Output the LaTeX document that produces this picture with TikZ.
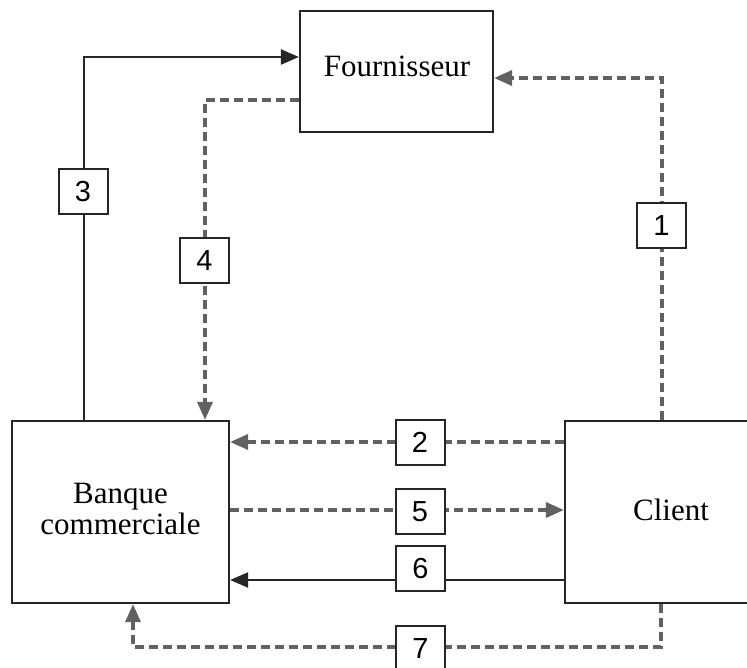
\documentclass[tikz,border=0pt]{standalone}
\usepackage{fontspec}
\setmainfont{Liberation Serif}
\newfontfamily\numfont{Liberation Sans}
\usetikzlibrary{arrows.meta,calc}
\begin{document}
\begin{tikzpicture}[x=1pt,y=-1pt,
  entity/.style={draw=black!85,line width=2.2pt,fill=white,inner sep=0pt},
  entitytext/.style={inner sep=0pt,align=center,font=\fontsize{31}{33}\selectfont},
  stepnum/.style={draw=black!85,line width=2pt,fill=white,minimum width=49pt,
    minimum height=45pt,inner sep=0pt,font=\numfont\fontsize{29}{29}\selectfont},
  tip/.style={-{Triangle[length=18pt,width=15pt]}},
  flowsolid/.style={draw=black!85,line width=2.2pt,tip},
  flowdash/.style={draw=black!62,line width=3.4pt,dash pattern=on 9pt off 5pt,tip},
]
\clip (0,0) rectangle (747,668);
\fill[white] (0,0) rectangle (747,668);

% the three parties
\node[entity,minimum width=193pt,minimum height=121pt] (four) at (396.5,71.5) {};
\node[entitytext] (fourtext) at (397,66) {Fournisseur};
\node[entity,minimum width=217pt,minimum height=182pt] (bank) at (120.5,512)
  {\fontsize{31}{33}\selectfont\begin{tabular}{@{}c@{}}Banque\\[-2pt]commerciale\end{tabular}};
\node[entity,minimum width=212pt,minimum height=182pt] (client) at (671,512) {};
\node[entitytext] (clienttext) at (671,510) {Client};

% turning points of the routed flows
\coordinate (c1) at (662,78);
\coordinate (c3) at (84,57);
\coordinate (c4) at (205,100);
\coordinate (c7a) at (661,647);
\coordinate (c7b) at (133,647);

% 1 : client -> fournisseur
\draw[flowdash] (c1 |- client.north) -- (c1) -- (c1 -| four.east);
% 2 : client -> banque
\draw[flowdash] (client.west |- 0,442) -- (bank.east |- 0,442);
% 3 : banque -> fournisseur
\draw[flowsolid] (c3 |- bank.north) -- (c3) -- (c3 -| four.west);
% 4 : fournisseur -> banque
\draw[flowdash] (c4 -| four.west) -- (c4) -- (c4 |- bank.north);
% 5 : banque -> client
\draw[flowdash] (bank.east |- 0,510) -- (client.west |- 0,510);
% 6 : client -> banque
\draw[flowsolid] (client.west |- 0,580) -- (bank.east |- 0,580);
% 7 : client -> banque, around the bottom
\draw[flowdash] (c7a |- client.south) -- (c7a) -- (c7b) -- (c7b |- bank.south);

% step numbers
\node[stepnum] (n1) at (661.5,226) {1};
\node[stepnum] (n2) at (420,442) {2};
\node[stepnum] (n3) at (83,192) {3};
\node[stepnum] (n4) at (204.5,261) {4};
\node[stepnum] (n5) at (420,511.5) {5};
\node[stepnum] (n6) at (420.5,568.5) {6};
\node[stepnum] (n7) at (420.5,648.5) {7};
\end{tikzpicture}
\end{document}
